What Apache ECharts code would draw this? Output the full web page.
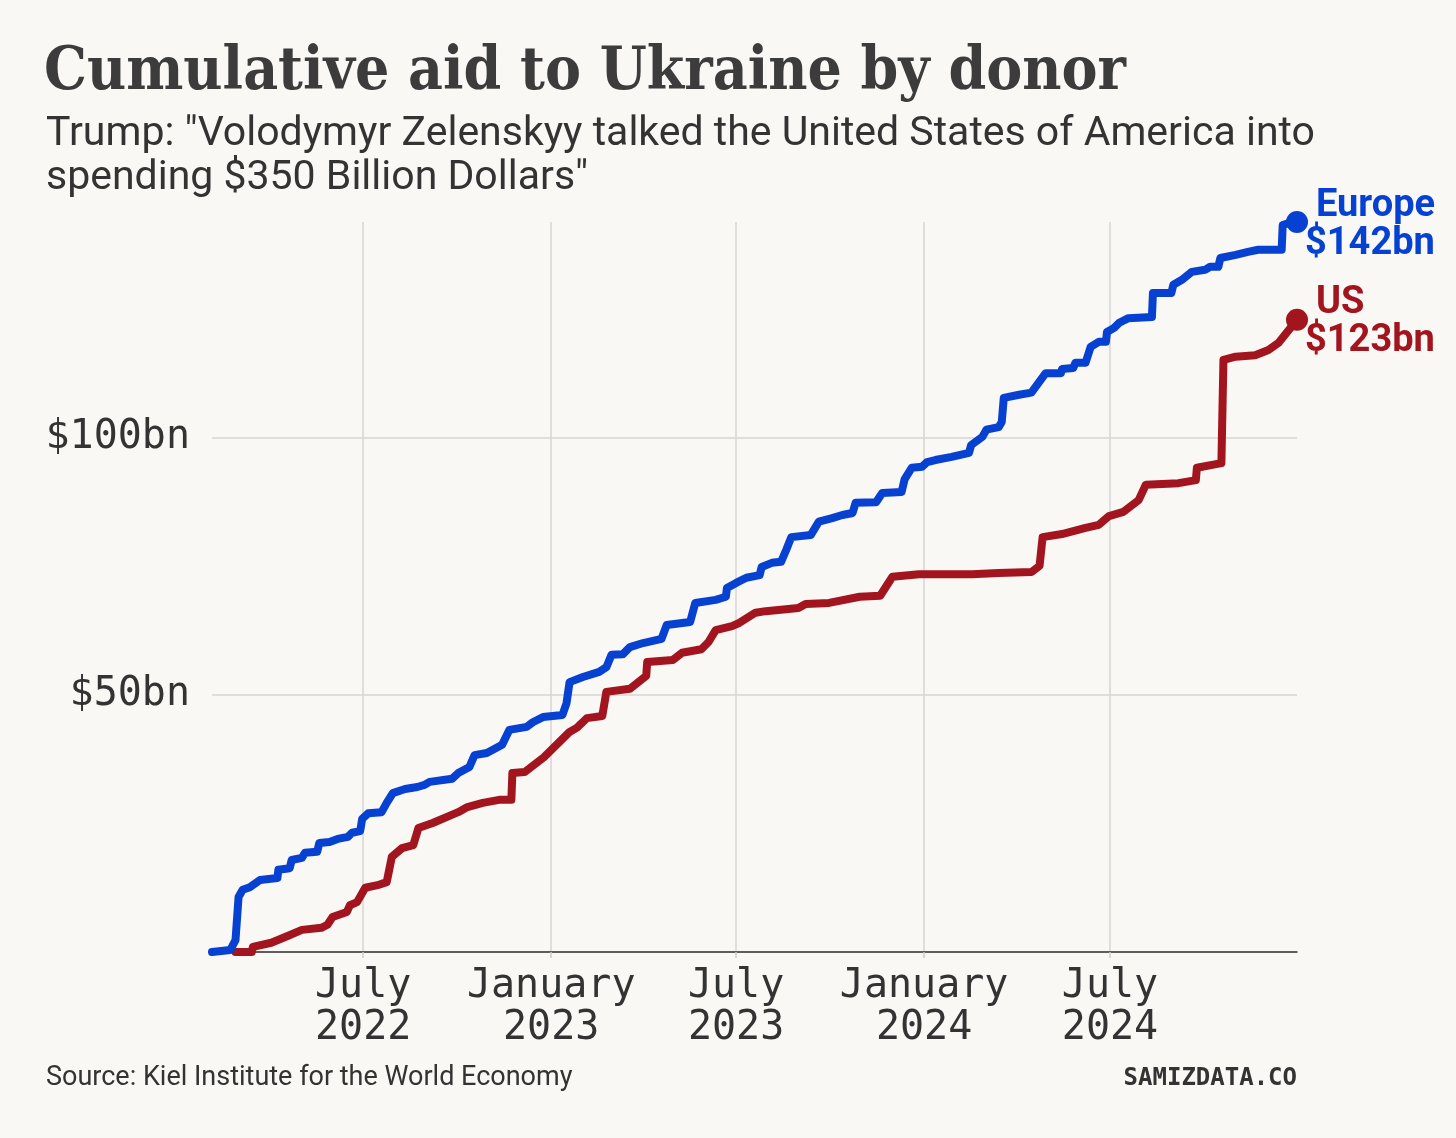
<!DOCTYPE html>
<html>
<head>
<meta charset="utf-8">
<script src="https://cdn.jsdelivr.net/npm/echarts@6/dist/echarts.min.js"></script>
<style>
  html, body { margin: 0; padding: 0; background: #f9f8f4; }
  #chart { width: 1456px; height: 1138px; }
</style>
</head>
<body>
<div id="chart"></div>
<script>
const europeDates = ['2022-02-03','2022-02-21','2022-02-26','2022-03-01','2022-03-05','2022-03-12','2022-03-22','2022-04-08','2022-04-09','2022-04-20','2022-04-22','2022-05-02','2022-05-05','2022-05-17','2022-05-19','2022-05-29','2022-06-06','2022-06-16','2022-06-20','2022-06-28','2022-06-30','2022-07-06','2022-07-19','2022-07-24','2022-07-30','2022-08-11','2022-08-23','2022-08-30','2022-09-04','2022-09-26','2022-10-02','2022-10-13','2022-10-18','2022-10-30','2022-11-14','2022-11-21','2022-12-08','2022-12-14','2022-12-24','2023-01-12','2023-01-16','2023-01-19','2023-02-01','2023-02-17','2023-02-24','2023-03-01','2023-03-12','2023-03-19','2023-04-01','2023-04-19','2023-04-24','2023-05-17','2023-05-22','2023-06-11','2023-06-21','2023-06-22','2023-07-01','2023-07-11','2023-07-24','2023-07-26','2023-08-05','2023-08-14','2023-08-19','2023-08-24','2023-09-12','2023-09-20','2023-10-03','2023-10-13','2023-10-23','2023-10-26','2023-11-15','2023-11-21','2023-12-10','2023-12-13','2023-12-20','2023-12-30','2024-01-04','2024-01-12','2024-01-28','2024-02-14','2024-02-16','2024-02-27','2024-03-02','2024-03-14','2024-03-17','2024-03-19','2024-04-03','2024-04-15','2024-04-22','2024-04-29','2024-05-14','2024-05-15','2024-05-26','2024-05-28','2024-06-07','2024-06-12','2024-06-20','2024-06-27','2024-06-28','2024-07-05','2024-07-10','2024-07-19','2024-08-11','2024-08-12','2024-08-30','2024-09-01','2024-09-09','2024-09-19','2024-10-02','2024-10-07','2024-10-15','2024-10-17','2024-11-01','2024-11-13','2024-11-23','2024-12-16','2024-12-17','2024-12-23','2024-12-31'];
const europeValues = [0,0.4,2.3,10.7,12.1,12.6,14.0,14.4,16.0,16.3,17.9,18.3,19.3,19.5,21.2,21.4,22.0,22.4,23.2,23.5,25.9,27.0,27.2,29.0,30.9,31.7,32.1,32.5,33.1,33.7,34.8,36.0,38.3,38.7,40.3,43.2,43.8,44.7,45.7,46.1,48.4,52.5,53.5,54.5,55.4,57.8,57.9,59.3,60.1,60.9,63.6,64.2,67.9,68.5,69.1,70.8,71.8,72.8,73.3,74.9,75.7,75.9,78.2,80.7,81.1,83.7,84.4,85.0,85.4,87.4,87.5,89.3,89.5,92.0,94.2,94.4,95.3,95.7,96.3,97.1,98.6,100.2,101.6,102.1,103.1,107.8,108.4,108.8,110.7,112.6,112.6,113.4,113.6,114.6,114.6,117.7,118.7,118.7,120.6,121.4,122.4,123.3,123.5,128.2,128.2,129.8,130.7,132.3,132.7,133.3,133.3,135.0,135.6,136.2,136.6,136.6,141.4,141.8,142];

const usDates = ['2022-02-26','2022-03-14','2022-03-15','2022-04-02','2022-04-18','2022-05-02','2022-05-21','2022-05-27','2022-06-01','2022-06-15','2022-06-18','2022-06-25','2022-07-03','2022-07-15','2022-07-24','2022-07-29','2022-08-08','2022-08-19','2022-08-24','2022-09-07','2022-10-02','2022-10-11','2022-10-26','2022-11-11','2022-11-23','2022-11-24','2022-12-06','2022-12-25','2023-01-19','2023-01-26','2023-02-05','2023-02-20','2023-02-24','2023-03-19','2023-04-04','2023-04-05','2023-04-30','2023-05-09','2023-05-28','2023-06-04','2023-06-11','2023-06-27','2023-07-04','2023-07-20','2023-07-30','2023-08-31','2023-09-07','2023-09-30','2023-10-30','2023-11-19','2023-12-01','2023-12-27','2024-02-17','2024-03-14','2024-04-15','2024-04-23','2024-04-26','2024-05-15','2024-06-07','2024-06-20','2024-06-30','2024-07-14','2024-07-29','2024-08-05','2024-09-06','2024-09-23','2024-09-24','2024-10-18','2024-10-20','2024-11-01','2024-11-20','2024-12-03','2024-12-13','2024-12-31'];
const usValues = [0,0,1.0,1.8,3.1,4.3,4.7,5.3,6.8,7.8,9.1,9.7,12.5,13.0,13.6,18.5,20.2,20.8,24.1,25.1,27.2,28.2,29.0,29.6,29.6,34.8,35.0,37.9,42.8,43.6,45.5,45.9,50.6,51.2,53.7,56.4,56.8,58.2,58.9,60.3,62.6,63.4,64.0,66.0,66.3,66.9,67.7,67.9,69.1,69.3,73.0,73.5,73.5,73.7,73.9,75.1,80.7,81.3,82.5,83.1,84.8,85.6,87.9,90.9,91.2,91.8,94.2,95.1,115.2,115.8,116.1,117.1,118.5,123];

const xTickDates = ['2022-07-01','2023-01-01','2023-07-01','2024-01-01','2024-07-01'];
const xTickLabels = ['July\n2022','January\n2023','July\n2023','January\n2024','July\n2024'];
const yTickValues = [0, 50, 100];
const yLabelValues = [50, 100];

const seriesNames = ['Europe', 'US'];
const endTotals = ['$142bn', '$123bn'];
const colors = ['#0641d2', '#a2151f'];

function ts(d) { return new Date(d + 'T00:00:00Z').getTime(); }
const xTickTs = xTickDates.map(ts);

function makeSeries(i, dates, values) {
  const last = values.length - 1;
  return {
    name: seriesNames[i],
    type: 'line',
    data: dates.map((d, k) => [ts(d), values[k]]),
    symbol: 'circle',
    symbolSize: (v, p) => p.dataIndex === last ? 22 : 0,
    showAllSymbol: true,
    itemStyle: { color: colors[i] },
    lineStyle: { color: colors[i], width: 8, join: 'round', cap: 'round' },
    emphasis: { disabled: true },
    silent: true,
    z: i === 0 ? 3 : 2,
    endLabel: {
      show: true,
      distance: 8,
      offset: [0, 3],
      formatter: () => '{n|' + seriesNames[i] + '}\n{v|' + endTotals[i] + '}',
      rich: {
        n: { fontFamily: 'Roboto', fontWeight: 'bold', fontSize: 38, color: colors[i], lineHeight: 38, padding: [0, 0, 0, 11] },
        v: { fontFamily: 'Roboto', fontWeight: 'bold', fontSize: 38, color: colors[i], lineHeight: 38 }
      }
    }
  };
}

const chart = echarts.init(document.getElementById('chart'), null, { renderer: 'canvas' });
chart.setOption({
  backgroundColor: '#f9f8f4',
  animation: false,
  title: [
    { text: 'Cumulative aid to Ukraine by donor', left: 44, top: 43, padding: 0,
      textStyle: { fontFamily: "'DejaVu Serif Condensed', 'DejaVu Serif'", fontWeight: 'bold', fontSize: 60, color: '#3c3c3c' } },
    { text: 'Trump: "Volodymyr Zelenskyy talked the United States of America into\nspending $350 Billion Dollars"', left: 46, top: 113, padding: 0,
      textStyle: { fontFamily: 'Roboto', fontWeight: 'normal', fontSize: 41, lineHeight: 44, color: '#333333' } },
    { text: 'Source: Kiel Institute for the World Economy', left: 46, top: 1065, padding: 0,
      textStyle: { fontFamily: 'Roboto', fontWeight: 'normal', fontSize: 27, color: '#333333' } },
    { text: 'SAMIZDATA.CO', right: 159, top: 1067, padding: 0,
      textStyle: { fontFamily: "'DejaVu Sans Mono'", fontWeight: 'bold', fontSize: 24, color: '#333333' } }
  ],
  grid: { left: 212, right: 159, top: 222, bottom: 186, containLabel: false },
  xAxis: {
    type: 'value',
    min: ts('2022-02-03'),
    max: ts('2024-12-31'),
    axisLine: { show: true, onZero: false, lineStyle: { color: '#333333', width: 1.5 } },
    axisTick: { show: true, length: 6, customValues: xTickTs, lineStyle: { color: '#cccccc', width: 1.5 } },
    axisLabel: {
      customValues: xTickTs,
      formatter: (v) => { const k = xTickTs.indexOf(v); return k >= 0 ? xTickLabels[k] : ''; },
      fontFamily: "'DejaVu Sans Mono'", fontSize: 40, lineHeight: 42, color: '#333333', margin: 14
    },
    splitLine: { show: true, lineStyle: { color: '#d6d6d6', width: 1.5 } }
  },
  yAxis: {
    type: 'value',
    min: 0,
    max: 142,
    interval: 50,
    axisLine: { show: false },
    axisTick: { show: false, customValues: yTickValues },
    axisLabel: {
      customValues: yLabelValues,
      formatter: (v) => '$' + v + 'bn',
      fontFamily: "'DejaVu Sans Mono'", fontSize: 40, color: '#333333', margin: 22
    },
    splitLine: { show: true, lineStyle: { color: '#d6d6d6', width: 1.5 } }
  },
  series: [
    makeSeries(0, europeDates, europeValues),
    makeSeries(1, usDates, usValues)
  ]
});
</script>
</body>
</html>
